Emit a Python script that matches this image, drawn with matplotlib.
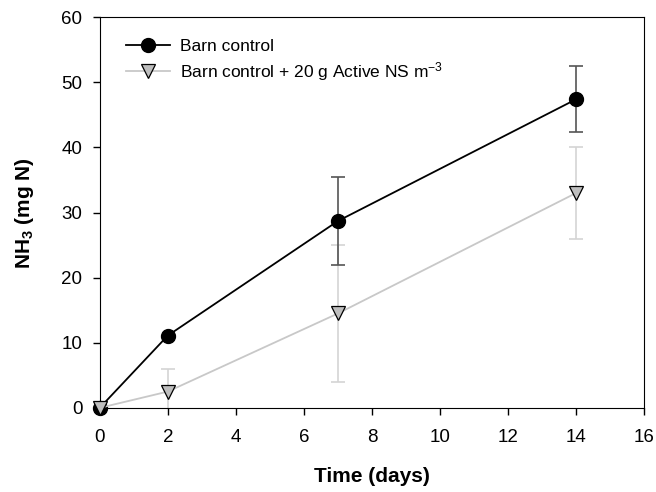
import numpy as np
from matplotlib import pyplot as plt

plt.rcParams['font.family'] = ['Liberation Sans', 'DejaVu Sans']
plt.rcParams['mathtext.default'] = 'regular'
plt.rcParams['axes.unicode_minus'] = False

# Data
days = [0, 2, 7, 14]

control = [0.0, 11.1, 28.7, 47.4]
control_err = [0.0, 0.0, 6.7, 5.1]

active = [0.0, 2.5, 14.5, 33.0]
active_err = [0.0, 3.5, 10.5, 7.0]

xticks = np.arange(0, 17, 2)
yticks = np.arange(0, 61, 10)

fig = plt.figure(figsize=(6.56, 4.92), dpi=100)
ax = fig.add_axes([0.152, 0.171, 0.830, 0.794])

# error bars first so markers sit on top
ax.errorbar(days, active, yerr=active_err, fmt='none', ecolor='#d4d4d4',
            elinewidth=1.2, capsize=5, capthick=1.2, zorder=1)
ax.errorbar(days, control, yerr=control_err, fmt='none', ecolor='#555555',
            elinewidth=1.2, capsize=5, capthick=1.2, zorder=2)

l_ctrl, = ax.plot(days, control, '-o', color='black', lw=1.3, ms=10,
                  mfc='black', mec='black', zorder=3, clip_on=False,
                  label='Barn control')
l_act, = ax.plot(days, active, '-v', color='#c8c8c8', lw=1.3, ms=10,
                 mfc='#bebebe', mec='black', mew=0.9, zorder=4,
                 clip_on=False,
                 label='Barn control + 20 g Active NS m$^{-3}$')

ax.set_xlim(0, 16)
ax.set_ylim(0, 60)
ax.set_xticks(xticks)
ax.set_yticks(yticks)
ax.tick_params(labelsize=13.5, direction='out', length=5, width=1)
ax.tick_params(axis='x', pad=10)
ax.tick_params(axis='y', pad=7.5)

ax.set_xlabel('Time (days)', fontsize=15, fontweight='bold', labelpad=15)
ax.set_ylabel('NH$_3$ (mg N)', fontsize=15, fontweight='bold', labelpad=18)

ax.legend([l_ctrl, l_act], [l_ctrl.get_label(), l_act.get_label()],
          loc='upper left', frameon=False, fontsize=12.5,
          bbox_to_anchor=(0.02, 0.985), handlelength=2.5,
          handletextpad=0.6, labelspacing=0.35)

fig.savefig('out.png', dpi=100)
